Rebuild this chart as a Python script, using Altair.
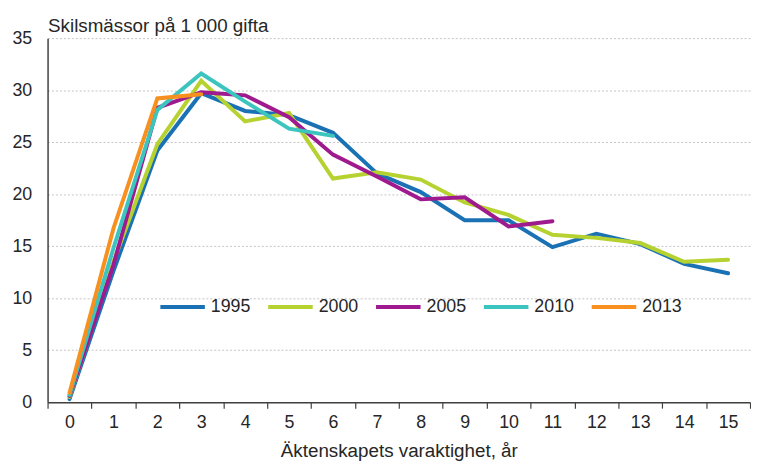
import altair as alt
import pandas as pd

years = ["1995", "2000", "2005", "2010", "2013"]
colors = ["#1a72b5", "#b6d231", "#9e1a8e", "#3cc5be", "#f7901e"]
durations = list(range(16))

s1995 = [0.3, 12.6, 24.2, 29.7, 28.0, 27.6, 25.9, 22.0, 20.2, 17.5, 17.5, 14.9, 16.2, 15.2, 13.3, 12.4]
s2000 = [0.5, 13.5, 24.8, 30.9, 27.0, 27.8, 21.5, 22.1, 21.4, 19.2, 18.0, 16.1, 15.8, 15.3, 13.5, 13.7]
s2005 = [0.6, 13.2, 28.3, 29.8, 29.5, 27.4, 23.8, 21.7, 19.5, 19.7, 16.9, 17.4]
s2010 = [0.7, 14.8, 28.1, 31.6, 28.9, 26.3, 25.6]
s2013 = [0.9, 16.7, 29.2, 29.6]

series = [s1995, s2000, s2005, s2010, s2013]
rows = []
for yr, vals in zip(years, series):
    for d, v in zip(durations, vals):
        rows.append({"d": d, "v": v, "year": yr, "order": years.index(yr)})
df = pd.DataFrame(rows)

FONT = "Liberation Sans"
TXT = "#262626"

chart = alt.Chart(df).mark_line(strokeWidth=4, strokeCap="round", strokeJoin="miter").encode(
    x=alt.X("d:O",
            scale=alt.Scale(type="band", paddingInner=0, paddingOuter=0),
            axis=alt.Axis(title="Äktenskapets varaktighet, år", labelAngle=0,
                          tickBand="extent", tickSize=6, tickColor="#404040",
                          domainColor="#404040", domainWidth=1.5, tickWidth=1.2,
                          labelPadding=6, labelFontSize=18, labelFont=FONT, labelColor=TXT,
                          titleFontSize=19, titleFont=FONT, titleColor=TXT,
                          titleFontWeight="normal", titlePadding=10, grid=False)),
    y=alt.Y("v:Q",
            scale=alt.Scale(domain=[0, 35], nice=False, zero=True),
            axis=alt.Axis(values=[0, 5, 10, 15, 20, 25, 30, 35], tickSize=0,
                          labelPadding=16, labelFontSize=18, labelFont=FONT, labelColor=TXT,
                          domainColor="#404040", domainWidth=1.5,
                          gridColor="#c4c4c4", gridDash=[2, 2], gridWidth=1,
                          title="Skilsmässor på 1 000 gifta", titleAngle=0,
                          titleAlign="left", titleBaseline="alphabetic",
                          titleX=0, titleY=-7, titleFontSize=19, titleFont=FONT,
                          titleColor=TXT, titleFontWeight="normal")),
    color=alt.Color("year:N",
                    scale=alt.Scale(domain=years, range=colors),
                    legend=alt.Legend(title=None, orient="none", direction="horizontal",
                                      legendX=112, legendY=247, symbolType="stroke",
                                      symbolSize=2025, symbolStrokeWidth=4,
                                      labelFontSize=18, labelFont=FONT, labelColor=TXT,
                                      labelOffset=4, columnPadding=9)),
    order=alt.Order("order:Q"),
).properties(
    width=710, height=368,
    padding={"left": 40, "top": 28, "right": 1, "bottom": 60},
    autosize=alt.AutoSizeParams(type="none"),
).configure_view(stroke=None)

chart.save("out.html", embed_options={"renderer": "svg", "actions": False})
